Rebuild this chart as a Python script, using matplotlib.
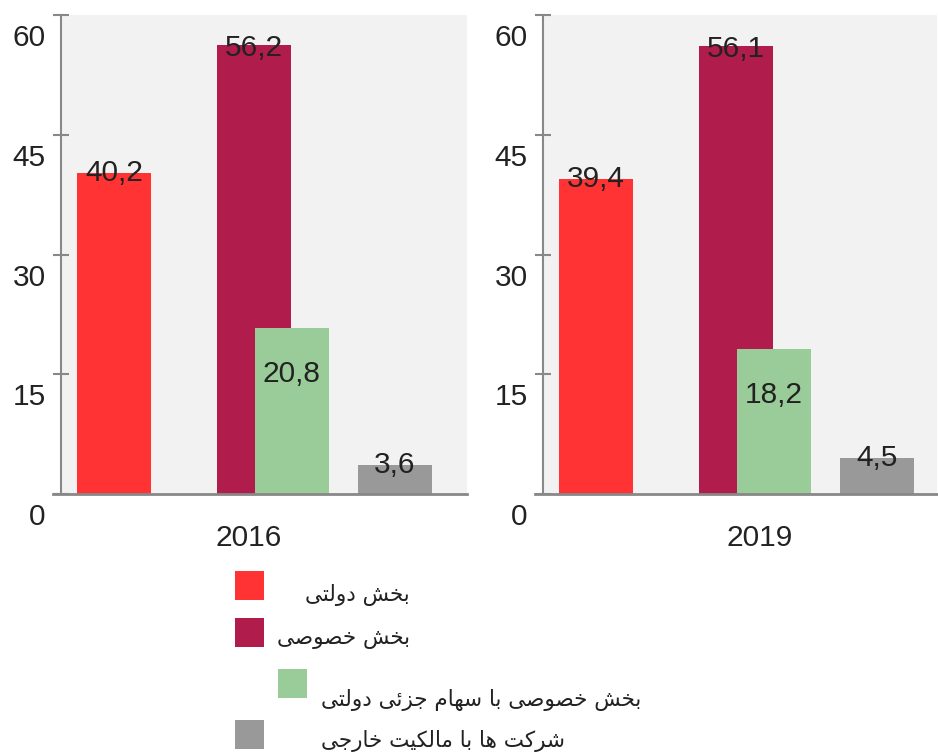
import matplotlib
matplotlib.use('Agg')
import matplotlib.pyplot as plt
import matplotlib.transforms as mtransforms
from matplotlib.patches import Rectangle

# Data
years = ['2016', '2019']
series = ['بخش دولتی', 'بخش خصوصی', 'بخش خصوصی با سهام جزئی دولتی', 'شرکت ها با مالکیت خارجی']
values_2016 = [40.2, 56.2, 20.8, 3.6]
values_2019 = [39.4, 56.1, 18.2, 4.5]
colors = ['#ff3333', '#b01c4b', '#99cc99', '#999999']
yticks = [0, 15, 30, 45, 60]

# minimal Arabic/Persian shaping (matplotlib has no bidi / joining support)
FORMS = {
    'ا': ('\uFE8D', '\uFE8E', None, None),
    'ب': ('\uFE8F', '\uFE90', '\uFE91', '\uFE92'),
    'ت': ('\uFE95', '\uFE96', '\uFE97', '\uFE98'),
    'ج': ('\uFE9D', '\uFE9E', '\uFE9F', '\uFEA0'),
    'خ': ('\uFEA5', '\uFEA6', '\uFEA7', '\uFEA8'),
    'د': ('\uFEA9', '\uFEAA', None, None),
    'ر': ('\uFEAD', '\uFEAE', None, None),
    'ز': ('\uFEAF', '\uFEB0', None, None),
    'س': ('\uFEB1', '\uFEB2', '\uFEB3', '\uFEB4'),
    'ش': ('\uFEB5', '\uFEB6', '\uFEB7', '\uFEB8'),
    'ص': ('\uFEB9', '\uFEBA', '\uFEBB', '\uFEBC'),
    'ل': ('\uFEDD', '\uFEDE', '\uFEDF', '\uFEE0'),
    'م': ('\uFEE1', '\uFEE2', '\uFEE3', '\uFEE4'),
    'ه': ('\uFEE9', '\uFEEA', '\uFEEB', '\uFEEC'),
    'و': ('\uFEED', '\uFEEE', None, None),
    'ئ': ('\uFE89', '\uFE8A', '\uFE8B', '\uFE8C'),
    'ی': ('\uFEEF', '\uFEF0', '\uFEF3', '\uFEF4'),
    'ک': ('\uFED9', '\uFEDA', '\uFEDB', '\uFEDC'),
}


def shape(text):
    out = []
    for i, ch in enumerate(text):
        if ch not in FORMS:
            out.append(ch)
            continue
        prev = text[i - 1] if i > 0 else ''
        nxt = text[i + 1] if i + 1 < len(text) else ''
        iso, fin, ini, med = FORMS[ch]
        jp = prev in FORMS and FORMS[prev][2] is not None
        jn = ini is not None and nxt in FORMS
        if jp and jn:
            out.append(med)
        elif jp:
            out.append(fin)
        elif jn:
            out.append(ini)
        else:
            out.append(iso)
    return ''.join(reversed(out))


plt.rcParams['font.family'] = ['Liberation Sans', 'DejaVu Sans']

W, H = 938, 756
fig = plt.figure(figsize=(W / 100, H / 100), dpi=100)

# layout (pixels)
offsets = [0.72, 2.61, 3.12, 4.51]
panels = [
    (years[0], values_2016, 61, 467, 2.54),
    (years[1], values_2019, 543, 937, 2.93),
]
label_shift = [0, -0.3, -5.8, 0]

for year, vals, x0, x1, year_x in panels:
    ax = fig.add_axes([x0 / W, 1 - 494 / H, (x1 - x0) / W, (494 - 15) / H])
    ax.set_facecolor('#f2f2f2')
    xmax = (x1 - x0) / 74
    ax.set_xlim(0, xmax)
    ax.set_ylim(0, 60)
    ax.bar(offsets, vals, width=1.0, color=colors, linewidth=0)
    for x, v, dy in zip(offsets, vals, label_shift):
        ax.text(x, v + dy, f'{v:.1f}'.replace('.', ','), ha='center', va='center',
                fontsize=21.5, color='#222222')
    for s in ['top', 'right', 'bottom']:
        ax.spines[s].set_visible(False)
    ax.spines['left'].set_color('#888888')
    ax.spines['left'].set_linewidth(1.5)
    ax.axhline(0, xmin=-8 / (x1 - x0), xmax=1, color='#888888', lw=2, clip_on=False)
    ax.set_xticks([])
    ax.set_yticks(yticks)
    ax.tick_params(axis='y', direction='inout', length=12, width=1.5, color='#888888',
                   pad=5, labelsize=21.5, labelcolor='#222222')
    shift = mtransforms.ScaledTranslation(0, -0.20, fig.dpi_scale_trans)
    for lab in ax.get_yticklabels():
        lab.set_transform(lab.get_transform() + shift)
    ax.text(year_x, -0.092, year, transform=ax.get_xaxis_transform(), ha='center',
            va='center', fontsize=21.5, color='#222222')

# legend drawn by hand to follow the reference's staggered layout
boxes = [(235, 571), (235, 618), (278, 669), (235, 720)]
text_pos = [(410, 595, 'right'), (410, 639, 'right'), (321, 700, 'left'), (321, 741, 'left')]
for (bx, by), (tx, ty, ha), name, c in zip(boxes, text_pos, series, colors):
    fig.add_artist(Rectangle((bx / W, 1 - (by + 29) / H), 29 / W, 29 / H,
                             transform=fig.transFigure, color=c, lw=0))
    fig.text(tx / W, 1 - ty / H, shape(name), ha=ha, va='center', fontsize=15.5,
             family=['DejaVu Sans'], color='#222222')

fig.savefig('out.png', dpi=100)
